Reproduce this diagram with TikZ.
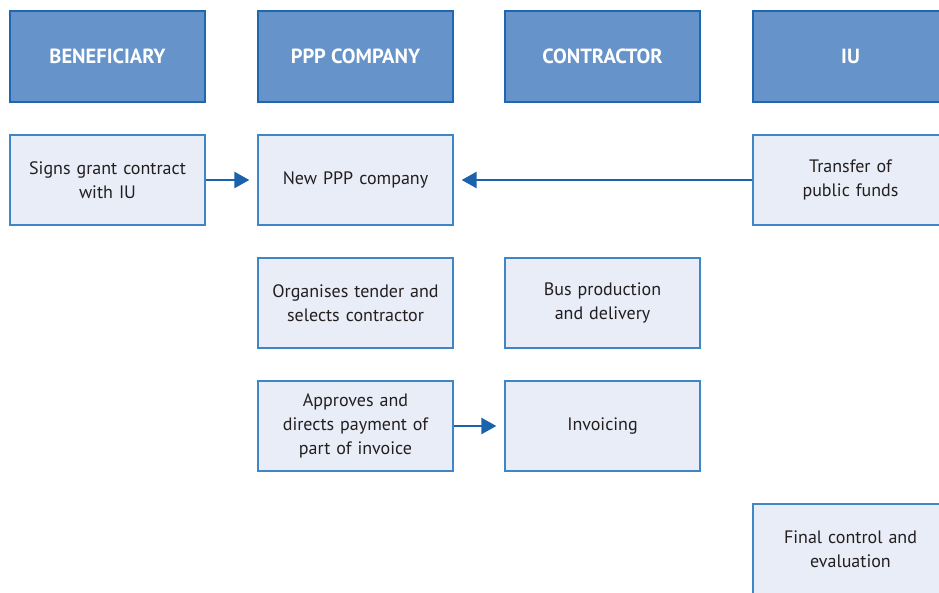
\documentclass[tikz,border=0pt]{standalone}
\usepackage{fontspec}
\setmainfont{PT Sans}
\usetikzlibrary{arrows.meta}
\definecolor{headfill}{HTML}{6593CA}
\definecolor{headline}{HTML}{1F67AE}
\definecolor{cellfill}{HTML}{E8EDF7}
\definecolor{cellline}{HTML}{3F86C6}
\definecolor{flow}{HTML}{1A63AB}
\definecolor{ink}{HTML}{231F20}
\tikzset{
  header/.style={draw=headline, line width=1.3pt, fill=headfill, minimum width=195pt,
    minimum height=91pt, inner sep=0pt, text=white, font=\fontsize{20.5}{24}\selectfont\bfseries},
  cell/.style={draw=cellline, line width=1.3pt, fill=cellfill, minimum width=195pt,
    minimum height=90pt, inner sep=0pt, text=ink, align=center, text width=190pt,
    font=\fontsize{18}{24}\selectfont},
  flowarrow/.style={draw=flow, line width=2.6pt,
    -{Triangle[length=15pt, width=16pt]}, shorten >=8pt}
}
\begin{document}
\begin{tikzpicture}[x=1pt, y=-1pt]
\useasboundingbox (0,0) rectangle (939,592);
\clip (0,0) rectangle (939,592);
% column headers
\node[header] (hBen) at (107.5,56.5) {BENEFICIARY};
\node[header] (hPPP) at (355.5,56.5) {PPP COMPANY};
\node[header] (hCon) at (602.5,56.5) {CONTRACTOR};
\node[header] (hIU)  at (850.5,56.5) {IU};
% process cells
\node[cell] (sign)    at (107.5,180) {Signs grant contract\\with IU};
\node[cell] (newppp)  at (355.5,180) {New PPP company};
\node[cell] (funds)   at (850.5,180) {Transfer of\\public funds};
\node[cell] (tender)  at (355.5,303) {Organises tender and\\selects contractor};
\node[cell] (bus)     at (602.5,303) {Bus production\\and delivery};
\node[cell] (approve) at (355.5,426) {Approves and\\directs payment of\\part of invoice};
\node[cell] (invoice) at (602.5,426) {Invoicing};
\node[cell] (final)   at (850.5,549) {Final control and\\evaluation};
% flows
\draw[flowarrow] (sign.east) -- (newppp.west);
\draw[flowarrow] (funds.west) -- (newppp.east);
\draw[flowarrow] (approve.east) -- (invoice.west);
\end{tikzpicture}
\end{document}
